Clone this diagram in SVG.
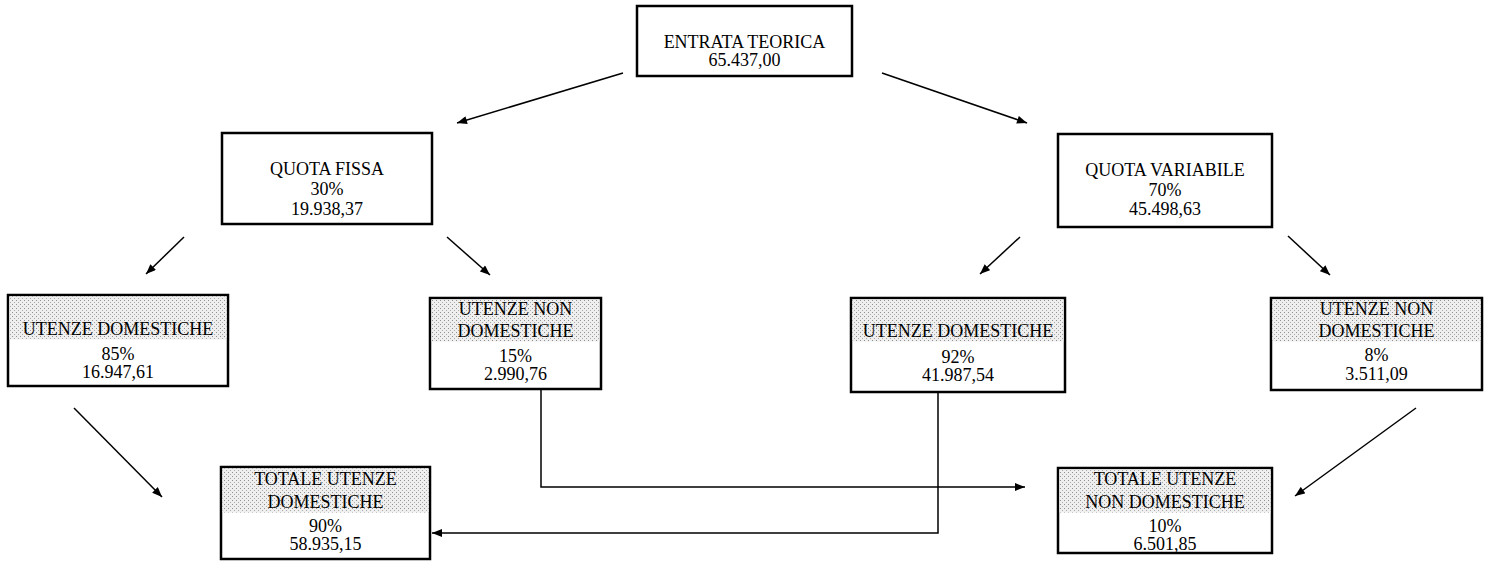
<svg xmlns="http://www.w3.org/2000/svg" width="1491" height="565" viewBox="0 0 1491 565">
<style>
.box{fill:#fff;stroke:#000;stroke-width:2.5}
.shade{fill:url(#dots);stroke:none}
.t{font-family:"Liberation Serif","Times New Roman",serif;font-size:18px;fill:#000;text-anchor:middle}
.c{fill:none;stroke:#000;stroke-width:1.5}
</style>
<defs>
<pattern id="dots" width="4" height="4" patternUnits="userSpaceOnUse">
<rect width="4" height="4" fill="#efefef"/>
<rect x="0" y="0" width="1" height="1" fill="#8f8f8f"/>
<rect x="2" y="2" width="1" height="1" fill="#aaaaaa"/>
</pattern>
<marker id="arr" viewBox="0 0 10 8" refX="10" refY="4" markerWidth="11" markerHeight="8" markerUnits="userSpaceOnUse" orient="auto">
<path d="M0,0 L10,4 L0,8 z" fill="#000"/>
</marker>
</defs>
<g id="connectors">
<line class="c" x1="623" y1="73" x2="457" y2="123" marker-end="url(#arr)"/>
<line class="c" x1="882" y1="73" x2="1027" y2="123" marker-end="url(#arr)"/>
<line class="c" x1="184" y1="237" x2="146" y2="274" marker-end="url(#arr)"/>
<line class="c" x1="447" y1="237" x2="490" y2="275" marker-end="url(#arr)"/>
<line class="c" x1="1020" y1="237" x2="980" y2="274" marker-end="url(#arr)"/>
<line class="c" x1="1288" y1="236" x2="1330" y2="275" marker-end="url(#arr)"/>
<line class="c" x1="74" y1="408" x2="162" y2="497" marker-end="url(#arr)"/>
<line class="c" x1="1416" y1="408" x2="1295" y2="496" marker-end="url(#arr)"/>
<polyline class="c" points="541,389 541,487 1025,487" marker-end="url(#arr)"/>
<polyline class="c" points="938,392 938,533 432,533" marker-end="url(#arr)"/>
</g>
<g id="entrata">
<rect class="box" x="637" y="6" width="215" height="70"/>
<text class="t" x="744.5" y="48">ENTRATA TEORICA</text>
<text class="t" x="744.5" y="66">65.437,00</text>
</g>
<g id="quota-fissa">
<rect class="box" x="222" y="133" width="210" height="91"/>
<text class="t" x="327" y="175">QUOTA FISSA</text>
<text class="t" x="327" y="195">30%</text>
<text class="t" x="327" y="215">19.938,37</text>
</g>
<g id="quota-variabile">
<rect class="box" x="1058" y="134" width="214" height="93"/>
<text class="t" x="1165" y="176">QUOTA VARIABILE</text>
<text class="t" x="1165" y="196">70%</text>
<text class="t" x="1165" y="215">45.498,63</text>
</g>
<g id="ud-fissa">
<rect class="box" x="8" y="295" width="220" height="91"/>
<rect class="shade" x="9.5" y="296.5" width="217" height="43"/>
<text class="t" x="118" y="335">UTENZE DOMESTICHE</text>
<text class="t" x="118" y="360">85%</text>
<text class="t" x="118" y="378">16.947,61</text>
</g>
<g id="und-fissa">
<rect class="box" x="430" y="298" width="171" height="91"/>
<rect class="shade" x="431.5" y="299.5" width="168" height="42"/>
<text class="t" x="515.5" y="315">UTENZE NON</text>
<text class="t" x="515.5" y="337">DOMESTICHE</text>
<text class="t" x="515.5" y="362">15%</text>
<text class="t" x="515.5" y="380">2.990,76</text>
</g>
<g id="ud-variabile">
<rect class="box" x="851" y="298" width="214" height="94"/>
<rect class="shade" x="852.5" y="299.5" width="211" height="42"/>
<text class="t" x="958" y="337">UTENZE DOMESTICHE</text>
<text class="t" x="958" y="363">92%</text>
<text class="t" x="958" y="381">41.987,54</text>
</g>
<g id="und-variabile">
<rect class="box" x="1271" y="298" width="211" height="92"/>
<rect class="shade" x="1272.5" y="299.5" width="208" height="42"/>
<text class="t" x="1376.5" y="315">UTENZE NON</text>
<text class="t" x="1376.5" y="337">DOMESTICHE</text>
<text class="t" x="1376.5" y="361">8%</text>
<text class="t" x="1376.5" y="380">3.511,09</text>
</g>
<g id="totale-domestiche">
<rect class="box" x="221" y="467" width="209" height="92"/>
<rect class="shade" x="222.5" y="468.5" width="206" height="44"/>
<text class="t" x="325.5" y="485">TOTALE UTENZE</text>
<text class="t" x="325.5" y="508">DOMESTICHE</text>
<text class="t" x="325.5" y="532">90%</text>
<text class="t" x="325.5" y="550">58.935,15</text>
</g>
<g id="totale-non-domestiche">
<rect class="box" x="1058" y="468" width="214" height="85"/>
<rect class="shade" x="1059.5" y="469.5" width="211" height="43"/>
<text class="t" x="1165" y="485">TOTALE UTENZE</text>
<text class="t" x="1165" y="508">NON DOMESTICHE</text>
<text class="t" x="1165" y="532">10%</text>
<text class="t" x="1165" y="550">6.501,85</text>
</g>
</svg>
